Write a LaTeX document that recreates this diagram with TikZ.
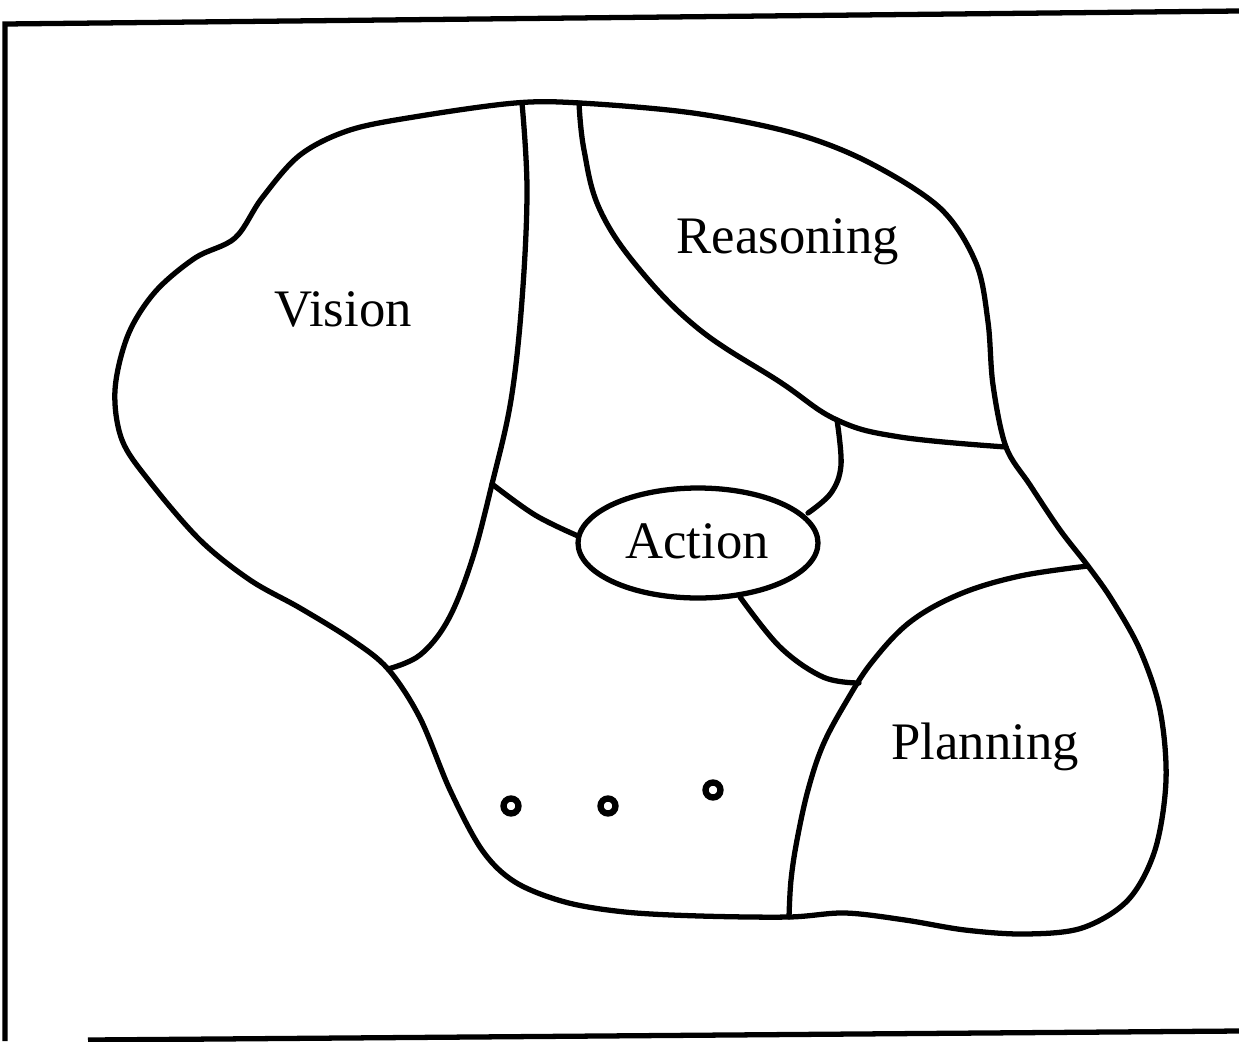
\documentclass[tikz,border=0pt]{standalone}
\usepackage{fontspec}
\setmainfont{Liberation Serif}
\newfontfamily\lblfont{Liberation Serif}
\usetikzlibrary{shapes.geometric}
\begin{document}
\begin{tikzpicture}[x=0.02cm,y=-0.02cm,
  region/.style={line width=3pt,line join=round,line cap=round},
  lbl/.style={font=\lblfont\fontsize{30}{36}\selectfont,inner sep=0pt},
  dot/.style={circle,draw,line width=3.6pt,minimum size=0.3cm,inner sep=0pt}]
\useasboundingbox (0,0) rectangle (1239,1041);
% frame
\draw[line width=3pt] (1239,11) -- (5,24) -- (5,1041);
\draw[line width=3pt] (88,1040) -- (1239,1031);
% outer blob
\draw[region] plot[smooth cycle,tension=0.55] coordinates {
 (515,103) (420,116) (350,130) (300,155) (262,198) (235,238) (195,258) (155,292)
 (128,335) (115,390) (122,440) (150,482) (200,540) (250,580) (300,608) (352,640) (388,669)
 (420,718) (450,790) (482,850) (515,882) (565,902) (625,912) (700,916) (789,917)
 (845,913) (905,920) (965,930) (1025,934) (1082,928) (1128,900) (1155,850) (1166,780)
 (1160,710) (1140,650) (1112,600) (1088,566) (1060,530) (1030,485) (1006,447)
 (993,385) (988,322) (976,263) (940,208) (868,162) (793,133) (693,113) (580,103)};
% vision right boundary
\draw[region] plot[smooth,tension=0.6] coordinates {
 (522,103) (527,190) (522,300) (511,400) (492,484) (472,560) (448,620) (420,655) (388,669)};
% reasoning lower boundary
\draw[region] plot[smooth,tension=0.65] coordinates {
 (579,103) (584,150) (600,210) (640,270) (700,330) (780,382) (837,420) (900,437) (1006,447)};
% action ellipse
\node[ellipse,draw,line width=3pt,minimum width=4.8cm,minimum height=2.2cm,inner sep=0pt] (act) at (698,543) {};
\node[lbl] (actl) at (697,541) {Action};
% link from reasoning boundary to action
\draw[region] plot[smooth,tension=0.6] coordinates {(837,420) (841,465) (831,493) (808,513)};
% link from vision boundary to action
\draw[region] plot[smooth,tension=0.6] coordinates {(492,484) (535,515) (578,536)};
% link from action to planning
\draw[region] plot[smooth,tension=0.6] coordinates {(740,597) (780,647) (823,677) (859,683)};
% planning boundary
\draw[region] plot[smooth,tension=0.6] coordinates {
 (1088,566) (1020,576) (960,594) (910,622) (872,662) (846,702) (823,745) (808,790) (797,840) (791,880) (789,917)};
% labels
\node[lbl] (vis) at (343,309) {Vision};
\node[lbl] (rea) at (788,242) {Reasoning};
\node[lbl] (pla) at (985,747) {Planning};
% dots
\node[dot] (d1) at (511,806) {};
\node[dot] (d2) at (608,806) {};
\node[dot] (d3) at (713,790) {};
\end{tikzpicture}
\end{document}
